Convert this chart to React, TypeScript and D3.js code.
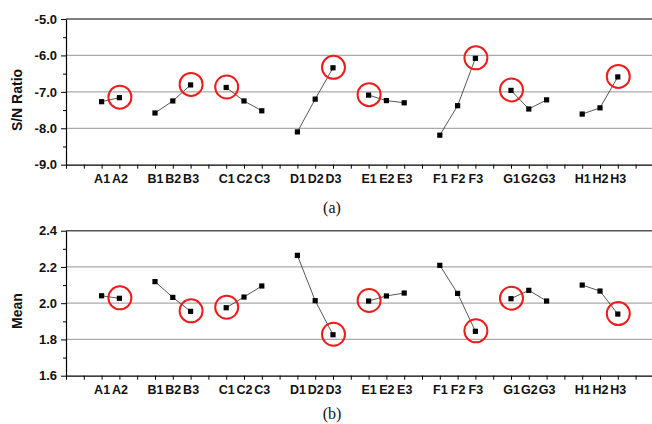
import React, { useRef, useEffect } from "react";
import * as d3 from "d3";

// factor levels, in plotting order
const levelLabels = [
  ["A1", "A2"],
  ["B1", "B2", "B3"],
  ["C1", "C2", "C3"],
  ["D1", "D2", "D3"],
  ["E1", "E2", "E3"],
  ["F1", "F2", "F3"],
  ["G1", "G2", "G3"],
  ["H1", "H2", "H3"],
];

// (a) S/N ratio per level
const snRatio = [
  [-7.27, -7.16],
  [-7.58, -7.25, -6.81],
  [-6.88, -7.25, -7.52],
  [-8.1, -7.2, -6.34],
  [-7.09, -7.24, -7.3],
  [-8.19, -7.38, -6.08],
  [-6.96, -7.47, -7.22],
  [-7.61, -7.44, -6.59],
];

// (b) mean per level
const meanValues = [
  [2.041, 2.027],
  [2.119, 2.032, 1.955],
  [1.975, 2.034, 2.095],
  [2.264, 2.014, 1.826],
  [2.012, 2.04, 2.056],
  [2.209, 2.054, 1.845],
  [2.025, 2.071, 2.012],
  [2.1, 2.067, 1.94],
];

// index of the circled (optimal) level in each group
const circledSN = [1, 2, 0, 2, 0, 2, 0, 2];
const circledMean = [1, 2, 0, 2, 0, 2, 0, 2];

const snTicks = [-9, -8, -7, -6, -5];
const meanTicks = [1.6, 1.8, 2.0, 2.2, 2.4];

const W = 652;
const H = 424;
const SANS = "'Liberation Sans', Arial, sans-serif";
const SERIF = "'Liberation Serif', 'Times New Roman', serif";

// slot positions: 2 empty slots, then each group followed by one gap slot
const slots: number[][] = [];
let s = 2;
levelLabels.forEach((g) => {
  slots.push(g.map((_, i) => s + i));
  s += g.length + 1;
});
const slotLabel: Record<number, string> = {};
levelLabels.forEach((g, gi) => g.forEach((l, i) => (slotLabel[slots[gi][i]] = l)));

const xScale = d3.scaleLinear().domain([0, 33]).range([66, 66 + 33 * 17.8]);

function styleLabels(a, size) {
  a.attr("font-family", null).attr("font-size", null);
  a.selectAll("text")
    .style("font-family", SANS)
    .style("font-size", size + "px")
    .style("font-weight", "bold")
    .attr("fill", "#111");
}

function drawPanel(g, values, circled, ticks, yRange, title, titleY, caption, captionY) {
  const lo = ticks[0];
  const hi = ticks[ticks.length - 1];
  const step = ticks[1] - ticks[0];
  const y = d3.scaleLinear().domain([lo, hi]).range(yRange);

  // grid
  g.selectAll(".grid")
    .data(ticks.slice(1))
    .join("line")
    .attr("x1", xScale(0))
    .attr("x2", W)
    .attr("y1", (d) => y(d))
    .attr("y2", (d) => y(d))
    .attr("stroke", (d) => (d === hi ? "#555" : "#aaa"))
    .attr("stroke-width", (d) => (d === hi ? 1.5 : 1.2));

  // minor y ticks
  const minor = d3.range(0, ticks.length - 1).map((i) => lo + step * (i + 0.5));
  g.append("g")
    .attr("transform", `translate(${xScale(0)},0)`)
    .call(d3.axisLeft(y).tickValues(minor).tickSize(3).tickFormat(() => ""))
    .call((a) => a.select(".domain").remove());

  // y axis
  const fmt = d3.format(".1f");
  g.append("g")
    .attr("transform", `translate(${xScale(0)},0)`)
    .call(d3.axisLeft(y).tickValues(ticks).tickSize(5).tickSizeOuter(0).tickPadding(4).tickFormat((d) => fmt(d).replace("−", "-")))
    .call((a) => styleLabels(a, 13))
    .call((a) => a.select(".domain").attr("stroke-width", 1.2));

  // x axis
  g.append("g")
    .attr("transform", `translate(0,${y(lo)})`)
    .call(d3.axisBottom(xScale).tickValues(d3.range(0, 33)).tickSize(4).tickSizeOuter(0).tickPadding(5).tickFormat((d) => slotLabel[d] || ""))
    .call((a) => styleLabels(a, 12.5))
    .call((a) => a.select(".domain").attr("stroke-width", 1.2));

  // y title
  g.append("text")
    .attr("transform", `translate(22,${titleY}) rotate(-90)`)
    .attr("text-anchor", "middle")
    .style("font-family", SANS)
    .style("font-size", "14px")
    .style("font-weight", "bold")
    .attr("fill", "#111")
    .text(title);

  // lines and markers per group
  values.forEach((vals, gi) => {
    const pts = vals.map((v, i) => [xScale(slots[gi][i]), y(v)]);
    g.append("path")
      .attr("d", d3.line()(pts as [number, number][]))
      .attr("fill", "none")
      .attr("stroke", "#444")
      .attr("stroke-width", 0.9);
    g.selectAll(null)
      .data(pts)
      .join("rect")
      .attr("x", (p) => p[0] - 2.6)
      .attr("y", (p) => p[1] - 2.6)
      .attr("width", 5.2)
      .attr("height", 5.2)
      .attr("fill", "#000");
    const c = pts[circled[gi]];
    g.append("circle")
      .attr("cx", c[0] + 0.5)
      .attr("cy", c[1] - 0.5)
      .attr("r", 11.5)
      .attr("fill", "none")
      .attr("stroke", "#ee1c1c")
      .attr("stroke-width", 2);
  });

  g.append("text")
    .attr("x", 332)
    .attr("y", captionY)
    .attr("text-anchor", "middle")
    .style("font-family", SERIF)
    .style("font-size", "16px")
    .attr("fill", "#111")
    .text(caption);
}

export default function App() {
  const svgRef = useRef<SVGSVGElement>(null);

  useEffect(() => {
    document.body.style.margin = "0";
    const svg = d3.select(svgRef.current);
    svg.selectAll("*").remove();
    drawPanel(svg.append("g"), snRatio, circledSN, snTicks, [164.7, 19], "S/N Ratio", 100, "(a)", 213);
    drawPanel(svg.append("g"), meanValues, circledMean, meanTicks, [375.7, 230.7], "Mean", 311, "(b)", 419);
  }, []);

  return (
    <svg ref={svgRef} width={W} height={H} style={{ display: "block", background: "#fff" }} />
  );
}
